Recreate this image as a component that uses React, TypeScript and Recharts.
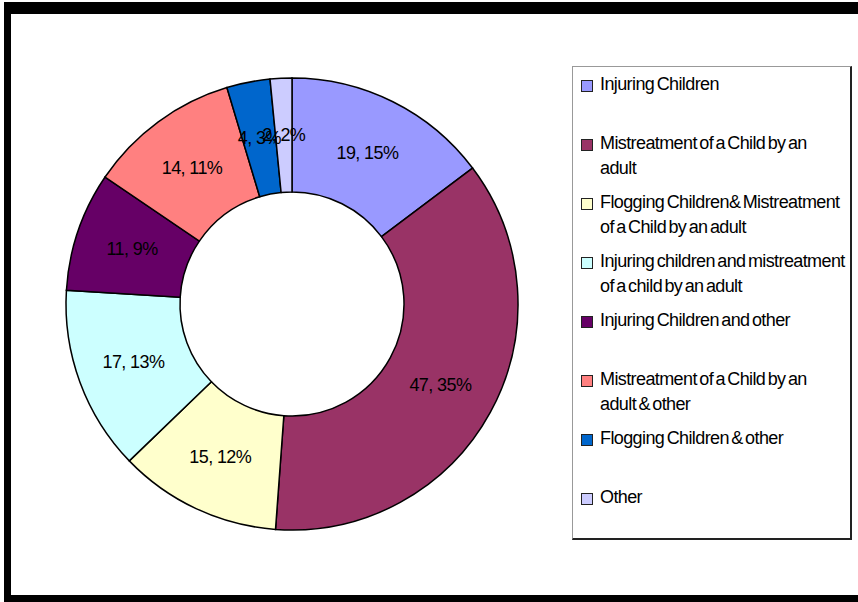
import { PieChart, Pie, Cell, Legend } from "recharts";

const categories = [
  "Injuring Children",
  "Mistreatment of a Child by an\nadult",
  "Flogging Children& Mistreatment\nof a Child by an adult",
  "Injuring children and mistreatment\nof a child by an adult",
  "Injuring Children and other",
  "Mistreatment of a Child by an\nadult & other",
  "Flogging Children & other",
  "Other",
];
const counts = [19, 47, 15, 17, 11, 14, 4, 2];
const percents = [15, 35, 12, 13, 9, 11, 3, 2];
const colors = ["#9999ff", "#993366", "#ffffcc", "#ccffff", "#660066", "#ff8080", "#0066cc", "#ccccff"];

const data = categories.map((name, i) => ({ name, value: counts[i], pct: percents[i] }));

const font = '"Liberation Sans", Arial, sans-serif';
const RADIAN = Math.PI / 180;

function SliceLabel(props: any) {
  const { cx, cy, midAngle, innerRadius, outerRadius, index } = props;
  const r = (innerRadius + outerRadius) / 2;
  const x = cx + r * Math.cos(-midAngle * RADIAN);
  const y = cy + r * Math.sin(-midAngle * RADIAN);
  return (
    <text
      x={x}
      y={y}
      textAnchor="middle"
      dominantBaseline="central"
      fill="#000"
      fontSize={18}
      fontFamily={font}
      letterSpacing={-0.6}
    >
      {`${counts[index]}, ${percents[index]}%`}
    </text>
  );
}

function LegendBox() {
  return (
    <div
      style={{
        width: 280,
        height: 474,
        boxSizing: "border-box",
        borderTop: "1px solid #999",
        borderLeft: "1px solid #999",
        borderRight: "2px solid #222",
        borderBottom: "2px solid #222",
        background: "#fff",
        paddingTop: 5,
        fontFamily: font,
      }}
    >
      {data.map((d, i) => (
        <div key={d.name} style={{ height: 59, display: "flex", alignItems: "flex-start" }}>
          <div
            style={{
              width: 10,
              height: 10,
              marginLeft: 8,
              marginTop: 8,
              background: colors[i],
              border: "1px solid #222",
              flexShrink: 0,
            }}
          />
          <div
            style={{
              marginLeft: 7,
              fontSize: 18,
              lineHeight: "25px",
              letterSpacing: -0.6,
              wordSpacing: -2,
              whiteSpace: "pre-line",
              color: "#000",
            }}
          >
            {d.name}
          </div>
        </div>
      ))}
    </div>
  );
}

export default function App() {
  return (
    <div style={{ position: "absolute", left: 0, top: 0, width: 858, height: 602, background: "#fff", overflow: "hidden" }}>
      <div style={{ position: "absolute", left: 4, top: 2, width: 854, height: 12, background: "#000" }} />
      <div style={{ position: "absolute", left: 4, top: 2, width: 7, height: 600, background: "#000" }} />
      <div style={{ position: "absolute", left: 4, top: 595, width: 854, height: 7, background: "#000" }} />
      <PieChart width={858} height={602} style={{ position: "absolute", left: 0, top: 0 }}>
        <Pie
          data={data}
          dataKey="value"
          nameKey="name"
          cx={287}
          cy={299}
          innerRadius={112}
          outerRadius={226}
          startAngle={90}
          endAngle={-270}
          stroke="#000"
          strokeWidth={1.5}
          label={SliceLabel}
          labelLine={false}
          isAnimationActive={false}
        >
          {data.map((d, i) => (
            <Cell key={d.name} fill={colors[i]} />
          ))}
        </Pie>
        <Legend
          content={() => <LegendBox />}
          wrapperStyle={{ position: "absolute", left: 572, top: 66, width: 280, height: 474 }}
        />
      </PieChart>
    </div>
  );
}
